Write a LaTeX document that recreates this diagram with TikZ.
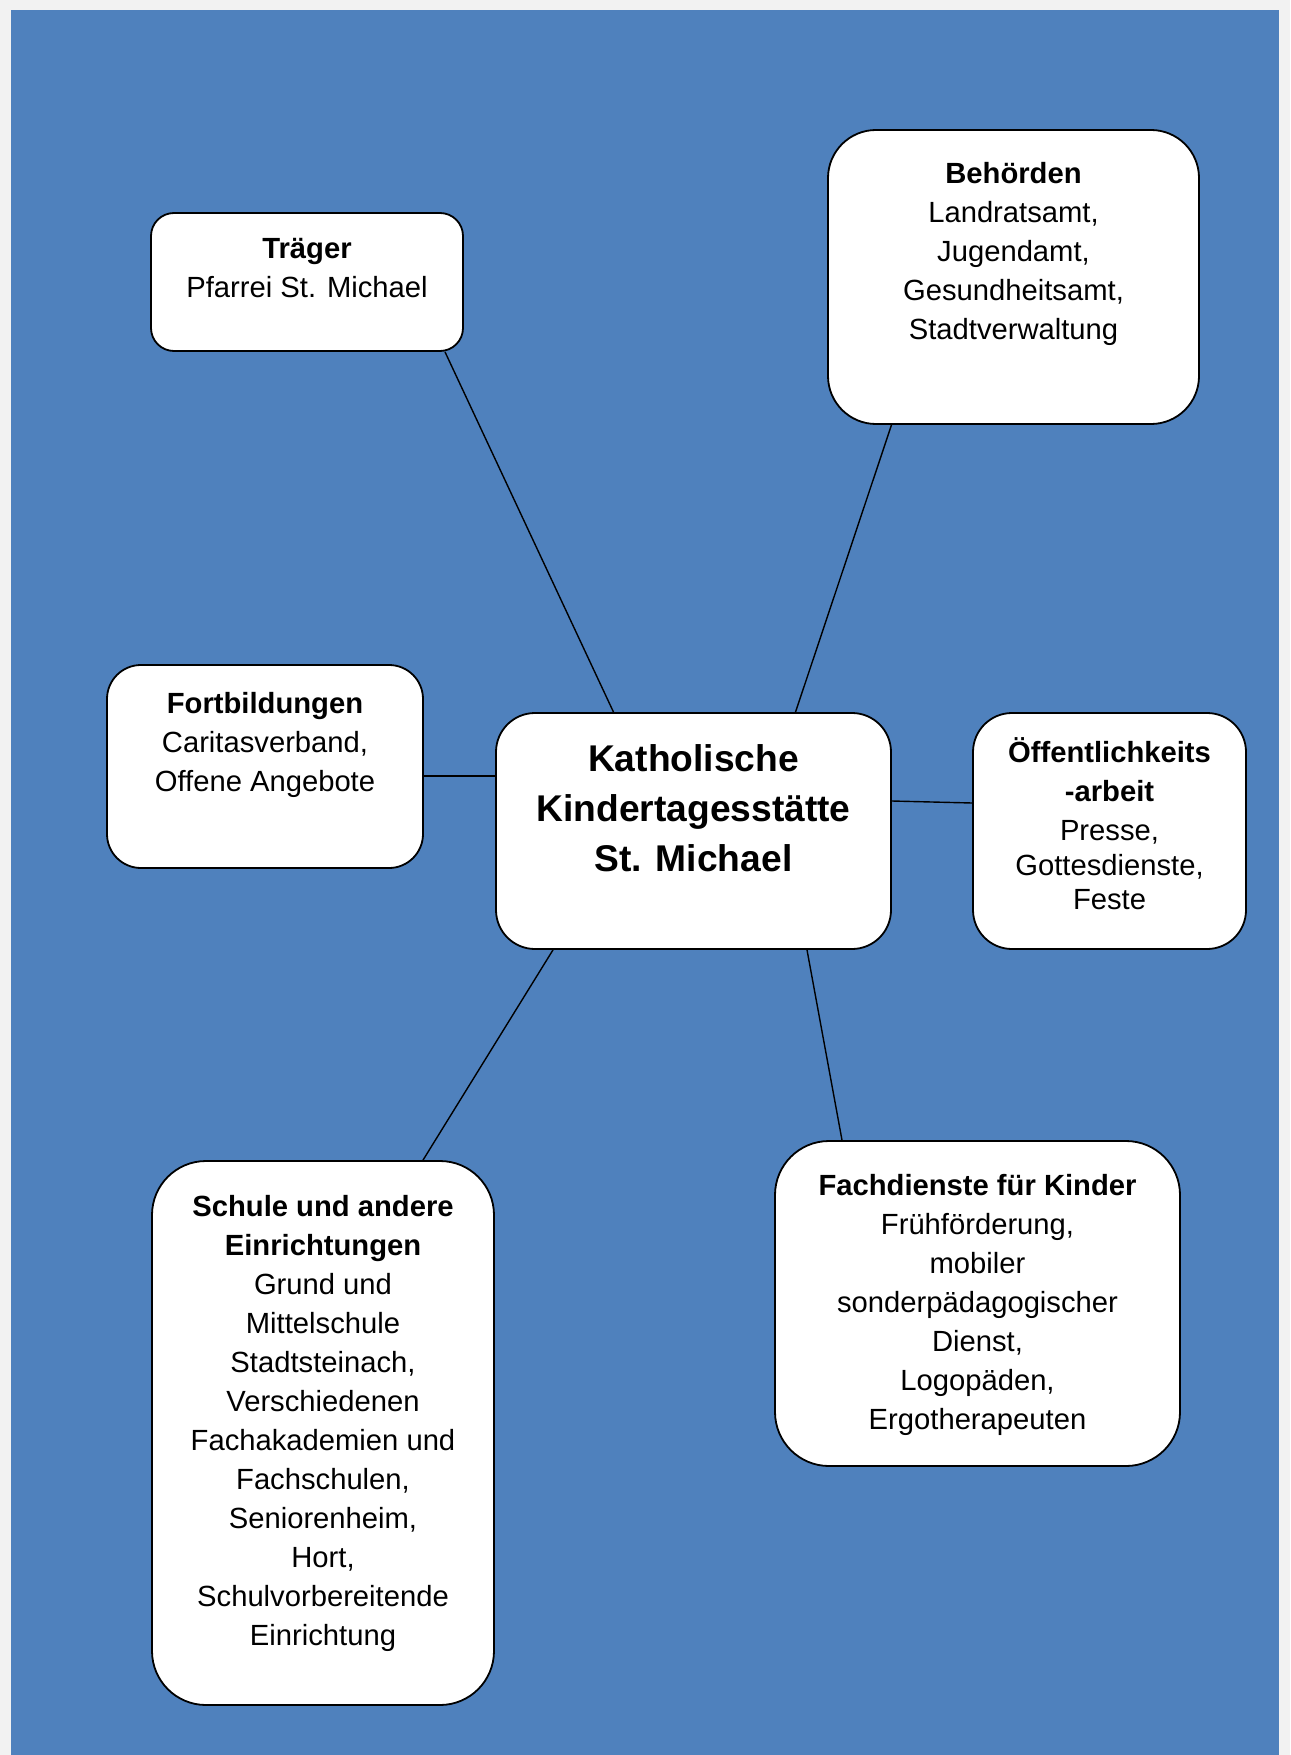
\documentclass[tikz,border=0pt]{standalone}
\usepackage{fontspec}
\setmainfont{Liberation Sans}
\usetikzlibrary{positioning,calc}
\definecolor{pageGray}{HTML}{F2F2F2}
\definecolor{bgBlue}{HTML}{4F81BD}
\tikzset{
  box/.style={draw=black, line width=0.9pt, fill=white, inner sep=0pt},
  txt/.style={align=center, inner sep=0pt, font=\fontsize{14.6}{19.5}\selectfont},
  title/.style={align=center, inner sep=0pt, font=\bfseries\fontsize{18.6}{24.9}\selectfont},
  link/.style={draw=black, line width=0.7pt}
}
\begin{document}
\begin{tikzpicture}[x=0.5pt, y=-0.5pt]
    % background
    \fill[pageGray] (0,0) rectangle (1290,1755);
    \fill[bgBlue] (11,10) rectangle (1279,1755);
    \useasboundingbox (0,0) rectangle (1290,1755);

    % boxes
    \node[box, minimum width=156pt, minimum height=69pt, rounded corners=11.5pt] (traeger) at (307,282) {};
    \node[box, minimum width=185.5pt, minimum height=147pt, rounded corners=24pt] (behoerden) at (1013.5,277) {};
    \node[box, minimum width=158pt, minimum height=101.5pt, rounded corners=17pt] (fortb) at (265,766.5) {};
    \node[box, minimum width=197.5pt, minimum height=118pt, rounded corners=19.5pt] (kita) at (693.5,831) {};
    \node[box, minimum width=136.5pt, minimum height=118pt, rounded corners=19.5pt] (oeff) at (1109.5,831) {};
    \node[box, minimum width=171pt, minimum height=272pt, rounded corners=27pt] (schule) at (323,1433) {};
    \node[box, minimum width=202.5pt, minimum height=162.5pt, rounded corners=27pt] (fach) at (977.5,1303.5) {};

    % texts
    \node[txt, below=12.9pt of traeger.north] (traegertxt) {\textbf{Träger}\\Pfarrei St. Michael};
    \node[txt, below=16.3pt of behoerden.north] (behoerdentxt) {\textbf{Behörden}\\Landratsamt,\\Jugendamt,\\Gesundheitsamt,\\Stadtverwaltung};
    \node[txt, below=14.1pt of fortb.north] (fortbtxt) {\textbf{Fortbildungen}\\Caritasverband,\\Offene Angebote};
    \node[title, below=16.2pt of kita.north] (kitatxt) {Katholische\\Kindertagesstätte\\St. Michael};
    \node[txt, below=12.7pt of oeff.north] (oefftxt) {\textbf{Öffentlichkeits}\\\textbf{-arbeit}\\Presse,\\[-2.3pt]Gottesdienste,\\[-2.3pt]Feste};
    \node[txt, below=17.6pt of schule.north] (schuletxt) {\textbf{Schule und andere}\\\textbf{Einrichtungen}\\Grund und\\Mittelschule\\Stadtsteinach,\\Verschiedenen\\Fachakademien und\\Fachschulen,\\Seniorenheim,\\Hort,\\Schulvorbereitende\\Einrichtung};
    \node[txt, below=17.1pt of fach.north] (fachtxt) {\textbf{Fachdienste für Kinder}\\Frühförderung,\\mobiler\\sonderpädagogischer\\Dienst,\\Logopäden,\\Ergotherapeuten};

    % connectors
    \draw[link] ([xshift=69pt]traeger.south) -- ([xshift=-40pt]kita.north);
    \draw[link] ([xshift=-61pt]behoerden.south) -- ([xshift=51pt]kita.north);
    \coordinate (fortbend) at ([yshift=-4.75pt]fortb.east);
    \draw[link] (fortbend) -- (fortbend -| kita.west);
    \draw[link] ([yshift=15pt]kita.east) -- ([yshift=14pt]oeff.west);
    \draw[link] ([xshift=-70.25pt]kita.south) -- ([xshift=50pt]schule.north);
    \draw[link] ([xshift=56.75pt]kita.south) -- ([xshift=-67.75pt]fach.north);
\end{tikzpicture}
\end{document}
